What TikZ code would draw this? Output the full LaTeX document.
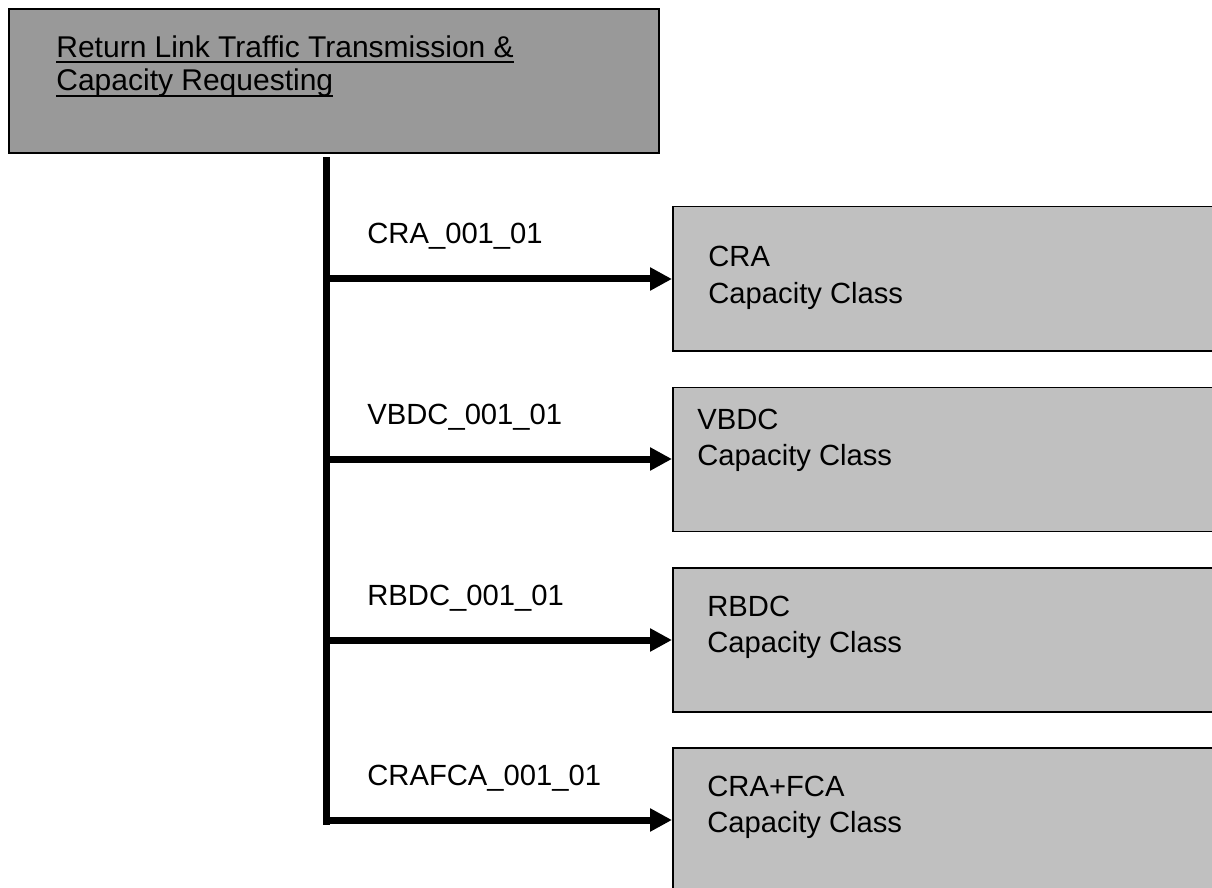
\documentclass[tikz,border=0pt]{standalone}
\usepackage{fontspec}
\setmainfont{Liberation Sans}
\usetikzlibrary{arrows.meta}
\definecolor{topgray}{HTML}{999999}
\definecolor{boxgray}{HTML}{C0C0C0}
\newcommand{\myul}[1]{\setbox0\hbox{#1}\rlap{\rule[-3.1pt]{\wd0}{1.2pt}}\box0}
\begin{document}
\begin{tikzpicture}[x=0.5pt,y=-0.5pt,
  txt/.style={anchor=base west, inner sep=0pt, align=left, font=\fontsize{14.6}{18}\selectfont},
  toptxt/.style={anchor=base west, inner sep=0pt, align=left, font=\fontsize{15}{17}\selectfont},
  topbox/.style={draw=black, line width=1pt, fill=topgray, anchor=north west, inner sep=0pt, minimum width=325pt, minimum height=72pt},
  classbox/.style={draw=black, line width=0.75pt, fill=boxgray, anchor=north west, inner sep=0pt, minimum width=290pt, minimum height=72pt},
  conn/.style={line width=3.5pt, -{Triangle[length=11pt,width=11pt]}},
  spine/.style={line width=3.5pt, line cap=butt}]
\useasboundingbox (0,0) rectangle (1212,888);
\clip (0,0) rectangle (1212,888);
% boxes
\node[topbox] (top) at (8,8) {};
\node[classbox] (b1) at (672,206) {};
\node[classbox] (b2) at (672,386.5) {};
\node[classbox] (b3) at (672,567) {};
\node[classbox, minimum height=90pt] (b4) at (672,747) {};
% texts (base anchor = baseline of the last line)
\node[toptxt] (ttop) at (56,91) {\myul{Return Link Traffic Transmission \&}\\\myul{Capacity Requesting}};
\node[txt] (t1) at (708,303) {CRA\\Capacity Class};
\node[txt] (t2) at (697,466) {VBDC\\Capacity Class};
\node[txt] (t3) at (707,652) {RBDC\\Capacity Class};
\node[txt] (t4) at (707,832) {CRA+FCA\\Capacity Class};
% labels
\node[txt] (l1) at (367,244) {CRA\_001\_01};
\node[txt] (l2) at (367,424) {VBDC\_001\_01};
\node[txt] (l3) at (367,605) {RBDC\_001\_01};
\node[txt] (l4) at (367,785) {CRAFCA\_001\_01};
% spine
\coordinate (s0) at (326.5,157);
\coordinate (j1) at (326.5,279);
\coordinate (j2) at (326.5,459);
\coordinate (j3) at (326.5,640);
\coordinate (j4) at (326.5,820);
\coordinate (s5) at (326.5,824.5);
\draw[spine] (s0) -- (s5);
\draw[conn] (j1) -- (j1 -| b1.west);
\draw[conn] (j2) -- (j2 -| b2.west);
\draw[conn] (j3) -- (j3 -| b3.west);
\draw[conn] (j4) -- (j4 -| b4.west);
\end{tikzpicture}
\end{document}
